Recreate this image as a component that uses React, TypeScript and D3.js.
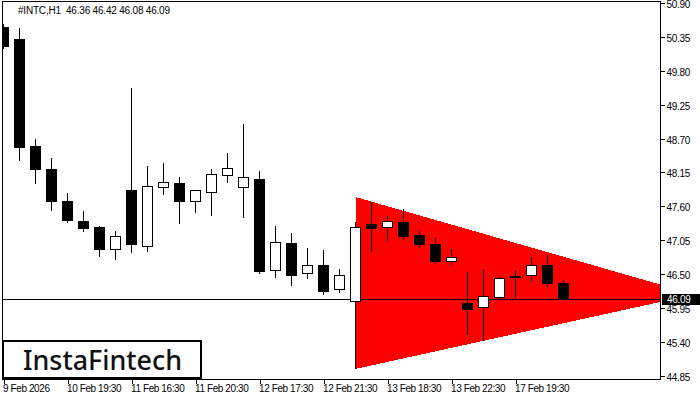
import * as d3 from 'd3';
import React, { useEffect } from 'react';

const opens = [50.51, 50.32, 48.58, 48.21, 47.69, 47.36, 47.26, 46.9, 47.87, 46.95, 47.91, 47.98, 47.68, 47.84, 48.1, 47.91, 48.04, 46.56, 47.0, 46.51, 46.65, 46.25, 46.06, 47.31, 47.26, 47.35, 47.13, 46.99, 46.72, 46.03, 45.96, 46.13, 46.45, 46.48, 46.64, 46.36];
const highs = [50.57, 50.51, 48.71, 48.4, 47.83, 47.54, 47.3, 47.22, 49.54, 48.27, 48.32, 48.09, 47.88, 48.22, 48.48, 48.95, 48.19, 47.3, 47.18, 46.94, 46.91, 46.6, 47.36, 47.69, 47.46, 47.57, 47.23, 47.12, 46.92, 46.55, 46.6, 46.47, 46.57, 46.8, 46.83, 46.42];
const lows = [50.17, 48.35, 47.98, 47.54, 47.35, 47.2, 46.8, 46.75, 46.85, 46.88, 47.8, 47.33, 47.51, 47.46, 48.0, 47.42, 46.52, 46.46, 46.33, 46.43, 46.18, 46.21, 44.98, 46.87, 47.04, 47.07, 46.94, 46.68, 46.64, 45.52, 45.43, 46.09, 46.09, 46.39, 46.31, 46.08];
const closes = [50.21, 48.57, 48.21, 47.69, 47.37, 47.25, 46.91, 47.11, 46.98, 47.93, 47.99, 47.68, 47.86, 48.12, 48.22, 48.07, 46.55, 47.02, 46.49, 46.64, 46.23, 46.48, 47.26, 47.24, 47.36, 47.11, 46.99, 46.72, 46.77, 45.94, 46.15, 46.43, 46.47, 46.64, 46.36, 46.09];

const priceTicks = [50.9, 50.35, 49.8, 49.25, 48.7, 48.15, 47.6, 47.05, 46.5, 45.95, 45.4, 44.85];
const timeTickIndex = [0, 4, 8, 12, 16, 20, 24, 28, 32];
const timeLabels = ['9 Feb 2026', '10 Feb 19:30', '11 Feb 16:30', '11 Feb 20:30', '12 Feb 17:30', '12 Feb 21:30', '13 Feb 18:30', '13 Feb 22:30', '17 Feb 19:30'];

const triangleIndex = [22, 22, 43.2];
const trianglePrice = [47.75, 44.96, 46.17];
const lastPrice = 46.09;

const FONT = '"Liberation Sans", sans-serif';

export default function App() {
  const ref = React.useRef<SVGSVGElement>(null);

  useEffect(() => {
    if (!ref.current) return;
    const svg = d3.select(ref.current);
    svg.selectAll('*').remove();

    const plot = { left: 2.5, right: 660.5, top: 1.5, bottom: 379.5 };

    const x = d3.scaleLinear().domain([0, 1]).range([3.5, 19.5]);
    const y = d3.scaleLinear().domain([44.85, 50.9]).range([375.7, 3]);
    const snap = (v: number) => Math.round(y(v)) + 0.5;

    svg
      .append('defs')
      .append('clipPath')
      .attr('id', 'plot-clip')
      .append('rect')
      .attr('x', plot.left)
      .attr('y', plot.top)
      .attr('width', plot.right - plot.left)
      .attr('height', plot.bottom - plot.top);

    const g = svg.append('g').attr('clip-path', 'url(#plot-clip)');

    // Triangle pattern
    const tri = d3
      .line<number>()
      .x(i => x(triangleIndex[i]))
      .y(i => y(trianglePrice[i]));
    g.append('path')
      .attr('d', tri(d3.range(triangleIndex.length))! + 'Z')
      .attr('fill', '#ff0000')
      .attr('shape-rendering', 'crispEdges');

    // Current price line
    g.append('line')
      .attr('x1', plot.left)
      .attr('x2', plot.right)
      .attr('y1', snap(lastPrice))
      .attr('y2', snap(lastPrice))
      .attr('stroke', '#000')
      .attr('shape-rendering', 'crispEdges');

    // Candles
    const candles = g
      .selectAll('g.candle')
      .data(d3.range(opens.length))
      .enter()
      .append('g')
      .attr('class', 'candle')
      .attr('shape-rendering', 'crispEdges');
    candles
      .append('line')
      .attr('x1', i => x(i))
      .attr('x2', i => x(i))
      .attr('y1', i => snap(highs[i]))
      .attr('y2', i => snap(lows[i]))
      .attr('stroke', '#000');
    candles
      .append('rect')
      .attr('x', i => x(i) - 5)
      .attr('width', 10)
      .attr('y', i => snap(Math.max(opens[i], closes[i])))
      .attr('height', i => Math.max(1, snap(Math.min(opens[i], closes[i])) - snap(Math.max(opens[i], closes[i]))))
      .attr('fill', i => (closes[i] >= opens[i] ? '#fff' : '#000'))
      .attr('stroke', '#000');

    // Frame
    svg
      .append('rect')
      .attr('x', plot.left)
      .attr('y', plot.top)
      .attr('width', plot.right - plot.left)
      .attr('height', plot.bottom - plot.top)
      .attr('fill', 'none')
      .attr('stroke', '#000')
      .attr('shape-rendering', 'crispEdges');

    // Price axis
    const yAxis = svg
      .append('g')
      .attr('transform', `translate(${plot.right},0)`)
      .call(
        d3
          .axisRight(y)
          .tickValues(priceTicks)
          .tickFormat(d => d3.format('.2f')(d as number))
          .tickSize(4)
          .tickPadding(2)
      );
    yAxis.select('.domain').remove();
    yAxis.selectAll('line').attr('shape-rendering', 'crispEdges');
    yAxis
      .selectAll('text')
      .attr('font-family', FONT)
      .attr('font-size', 10)
      .attr('fill', '#000')
      .attr('letter-spacing', -0.3)
      .attr('dy', '1.35em')
      .attr('transform', 'translate(0,-9)');

    // Time axis
    const xAxis = svg
      .append('g')
      .attr('transform', `translate(0,${plot.bottom})`)
      .call(
        d3
          .axisBottom(x)
          .tickValues(timeTickIndex)
          .tickFormat((_, i) => timeLabels[i])
          .tickSize(4)
          .tickPadding(1)
      );
    xAxis.select('.domain').remove();
    xAxis.selectAll('line').attr('shape-rendering', 'crispEdges');
    xAxis
      .selectAll('text')
      .attr('font-family', FONT)
      .attr('font-size', 10)
      .attr('fill', '#000')
      .attr('letter-spacing', -0.4)
      .attr('text-anchor', 'start')
      .attr('dx', -1);

    // Current price label
    svg
      .append('rect')
      .attr('x', 662)
      .attr('y', 294)
      .attr('width', 38)
      .attr('height', 11)
      .attr('fill', '#000')
      .attr('shape-rendering', 'crispEdges');
    svg
      .append('text')
      .attr('x', 667)
      .attr('y', y(lastPrice) + 3.5)
      .attr('font-family', FONT)
      .attr('font-size', 10)
      .attr('letter-spacing', -0.3)
      .attr('fill', '#fff')
      .text(d3.format('.2f')(lastPrice));

    // Header
    svg
      .append('text')
      .attr('x', 18)
      .attr('y', 14)
      .attr('font-family', FONT)
      .attr('font-size', 10)
      .attr('fill', '#000')
      .attr('letter-spacing', -0.2)
      .style('white-space', 'pre')
      .text('#INTC,H1  46.36 46.42 46.08 46.09');

    // Logo
    svg
      .append('rect')
      .attr('x', 3)
      .attr('y', 341)
      .attr('width', 198)
      .attr('height', 37)
      .attr('fill', '#fff')
      .attr('stroke', '#000')
      .attr('stroke-width', 2)
      .attr('shape-rendering', 'crispEdges');
    svg
      .append('text')
      .attr('x', 23)
      .attr('y', 369.5)
      .attr('font-family', '"Noto Sans", sans-serif')
      .attr('font-size', 27)
      .attr('font-weight', 500)
      .attr('fill', '#111')
      .attr('textLength', 159)
      .attr('lengthAdjust', 'spacingAndGlyphs')
      .text('InstaFintech');
  }, []);

  return <svg ref={ref} width={700} height={400} style={{ position: 'absolute', left: 0, top: 0, background: '#fff' }} />;
}
